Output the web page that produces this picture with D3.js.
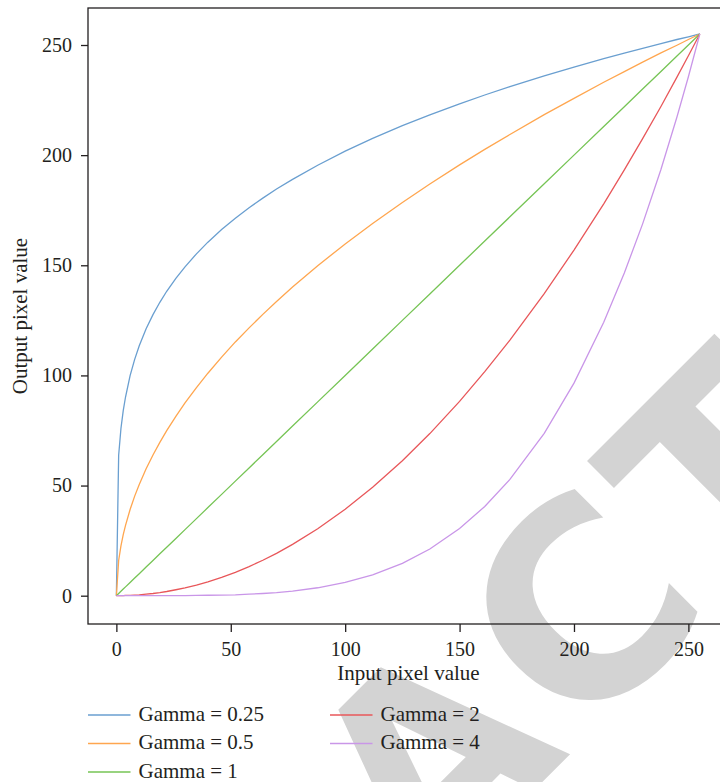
<!DOCTYPE html>
<html>
<head>
<meta charset="utf-8">
<script src="https://cdn.jsdelivr.net/npm/d3@7"></script>
<style>
  html, body { margin: 0; padding: 0; background: #fff; }
  svg { display: block; }
</style>
</head>
<body>
<div id="chart"></div>
<script>
// input levels, output level per gamma
const inputLevels = [0, 1, 2, 3, 4, 6, 8, 10, 13, 16, 19, 22, 26, 30, 35, 40, 46, 52, 58, 64, 70, 77, 88, 100, 112, 125, 137, 150, 161, 172, 187, 200, 213, 222, 230, 238, 245, 250, 255];
const gamma025 = [0, 63.8, 75.9, 84, 90.2, 99.9, 107.3, 113.5, 121.2, 127.6, 133.2, 138.2, 144.1, 149.3, 155.2, 160.5, 166.2, 171.4, 176.1, 180.5, 184.6, 189, 195.4, 201.8, 207.6, 213.4, 218.3, 223.3, 227.3, 231.1, 236, 240, 243.8, 246.3, 248.5, 250.6, 252.5, 253.7, 255];
const gamma05 = [0, 16, 22.6, 27.7, 31.9, 39.1, 45.2, 50.5, 57.6, 63.9, 69.6, 74.9, 81.4, 87.5, 94.5, 101, 108.3, 115.2, 121.6, 127.7, 133.6, 140.1, 149.8, 159.7, 169, 178.5, 186.9, 195.6, 202.6, 209.4, 218.4, 225.8, 233.1, 237.9, 242.2, 246.4, 249.9, 252.5, 255];
const gamma1 = [0, 1, 2, 3, 4, 6, 8, 10, 13, 16, 19, 22, 26, 30, 35, 40, 46, 52, 58, 64, 70, 77, 88, 100, 112, 125, 137, 150, 161, 172, 187, 200, 213, 222, 230, 238, 245, 250, 255];
const gamma2 = [0, 0, 0, 0, 0.1, 0.1, 0.3, 0.4, 0.7, 1, 1.4, 1.9, 2.7, 3.5, 4.8, 6.3, 8.3, 10.6, 13.2, 16.1, 19.2, 23.3, 30.4, 39.2, 49.2, 61.3, 73.6, 88.2, 101.7, 116, 137.1, 156.9, 177.9, 193.3, 207.5, 222.1, 235.4, 245.1, 255];
const gamma4 = [0, 0, 0, 0, 0, 0, 0, 0, 0, 0, 0, 0, 0, 0, 0.1, 0.2, 0.3, 0.4, 0.7, 1, 1.4, 2.1, 3.6, 6, 9.5, 14.7, 21.2, 30.5, 40.5, 52.8, 73.7, 96.5, 124.1, 146.5, 168.8, 193.5, 217.3, 235.6, 255];

const seriesNames = ["Gamma = 0.25", "Gamma = 0.5", "Gamma = 1", "Gamma = 2", "Gamma = 4"];
const seriesValues = [gamma025, gamma05, gamma1, gamma2, gamma4];
const seriesColors = ["#6a9fd0", "#ffa64f", "#76c455", "#e8575a", "#c996e8"];

const xTicks = [0, 50, 100, 150, 200, 250];
const yTicks = [0, 50, 100, 150, 200, 250];

const w = 720, h = 782;
const ink = "#231f20";
const serif = "'Liberation Serif', 'Times New Roman', serif";

const svg = d3.select("#chart").append("svg")
    .attr("width", w)
    .attr("height", h);

// watermark sits behind everything
const wmTarget = { x: 582, y: 604 };
const wmSize = 268;
const wm = svg.append("text")
    .text("RETRACTED")
    .attr("font-family", "'DejaVu Sans', sans-serif")
    .attr("font-weight", "bold")
    .attr("font-size", wmSize)
    .attr("letter-spacing", 10)
    .attr("fill", "#d3d3d3");
const ext = wm.node().getExtentOfChar(5);
const cu = ext.x + ext.width / 2;
const cv = -0.365 * wmSize;
const k = Math.SQRT1_2;
const rx = k * cu + k * cv;
const ry = -k * cu + k * cv;
wm.attr("transform", `translate(${wmTarget.x - rx},${wmTarget.y - ry}) rotate(-45)`);

const xScale = d3.scaleLinear().domain([-12.4, 267.75]).range([88, 729]);
const yScale = d3.scaleLinear().domain([-12.85, 266.8]).range([624, 8]);

// frame
svg.append("rect")
    .attr("x", xScale.range()[0])
    .attr("y", yScale.range()[1])
    .attr("width", xScale.range()[1] - xScale.range()[0])
    .attr("height", yScale.range()[0] - yScale.range()[1])
    .attr("fill", "none")
    .attr("stroke", ink)
    .attr("stroke-width", 1.3);

const xAxis = svg.append("g")
    .attr("transform", `translate(0,${yScale.range()[0]})`)
    .call(d3.axisBottom(xScale).tickValues(xTicks).tickSize(8).tickPadding(9.5));
const yAxis = svg.append("g")
    .attr("transform", `translate(${xScale.range()[0]},0)`)
    .call(d3.axisLeft(yScale).tickValues(yTicks).tickSize(7).tickPadding(9));

[xAxis, yAxis].forEach(g => {
    g.select(".domain").remove();
    g.selectAll(".tick line").attr("stroke", ink).attr("stroke-width", 1.3);
    g.selectAll(".tick text")
        .attr("fill", ink)
        .style("font-family", serif)
        .style("font-size", "20px");
});

svg.append("text")
    .attr("x", (xScale.range()[0] + xScale.range()[1]) / 2)
    .attr("y", 680)
    .attr("text-anchor", "middle")
    .attr("fill", ink)
    .style("font-family", serif)
    .style("font-size", "21px")
    .text("Input pixel value");

svg.append("text")
    .attr("transform", `translate(27,${(yScale.range()[0] + yScale.range()[1]) / 2}) rotate(-90)`)
    .attr("text-anchor", "middle")
    .attr("fill", ink)
    .style("font-family", serif)
    .style("font-size", "21px")
    .text("Output pixel value");

// curves
const line = d3.line()
    .x(d => xScale(d[0]))
    .y(d => yScale(d[1]));

seriesValues.forEach((vals, i) => {
    svg.append("path")
        .datum(inputLevels.map((v, j) => [v, vals[j]]))
        .attr("d", line)
        .attr("fill", "none")
        .attr("stroke", seriesColors[i])
        .attr("stroke-width", 1.3);
});

// legend, 3 rows per column
const legendCols = [88, 330];
const legendRows = [715, 743.5, 772];
seriesNames.forEach((name, i) => {
    const cx = legendCols[Math.floor(i / 3)];
    const cy = legendRows[i % 3];
    svg.append("line")
        .attr("x1", cx).attr("x2", cx + 42.5)
        .attr("y1", cy).attr("y2", cy)
        .attr("stroke", seriesColors[i])
        .attr("stroke-width", 1.3);
    svg.append("text")
        .attr("x", cx + 50.5)
        .attr("y", cy + 5.5)
        .attr("fill", ink)
        .style("font-family", serif)
        .style("font-size", "21px")
        .text(name);
});
</script>
</body>
</html>
